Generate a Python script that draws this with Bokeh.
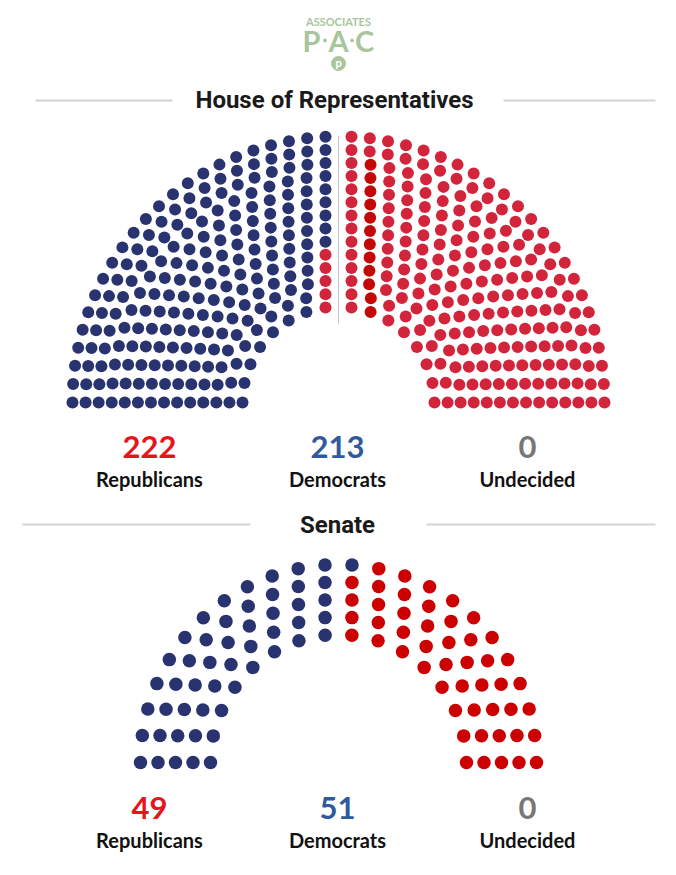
import math
import numpy as np
from bokeh.plotting import figure
from bokeh.models import Range1d, ColumnDataSource
from bokeh.core.properties import value
from bokeh.embed import file_html
from bokeh.resources import INLINE

# ---------------- data ----------------
party_labels = ["Republicans", "Democrats", "Undecided"]
house_seats = [222, 213, 0]          # Republicans, Democrats, Undecided
senate_seats = [49, 51, 0]
house_rows = 14
senate_rows = 5
house_rep_highlight = 12             # darker red seats (second column right of centre)

# ---------------- style ----------------
BLUE = "#29336f"
RED_H = "#d2253b"
RED_DARK = "#c40808"
RED_S = "#cc0000"
NUM_COLORS = ["#e8141c", "#2f5a9b", "#777777"]
LOGO = "#a8c69d"
FONT = "Lato"

W, H = 676, 875
p = figure(width=W, height=H, x_range=Range1d(0, W), y_range=Range1d(H, 0),
           output_backend="svg", toolbar_location=None, min_border=0)
p.axis.visible = False
p.grid.visible = False
p.outline_line_color = None
p.background_fill_color = "white"
p.border_fill_color = "white"


def largest_remainder(total, weights):
    raw = total * np.asarray(weights) / np.sum(weights)
    fl = np.floor(raw).astype(int)
    rem = raw - fl
    for idx in np.argsort(-rem)[: total - fl.sum()]:
        fl[idx] += 1
    return fl


# ---------------- House layout (two quarter fans with a centre gap) ----------------
hcx, hcy, r_in, r_out, gap = 338.0, 402.0, 96.0, 266.0, 13.0
rep_h, dem_h, und_h = house_seats
total_h = rep_h + dem_h + und_h
radii = np.linspace(r_in, r_out, house_rows)
arc_len = radii * (math.pi / 2 - np.arcsin(gap / radii))
left_total = math.ceil(total_h / 2)
right_total = total_h - left_total

hx, hy, hc = [], [], []
for side, n_side in ((-1, left_total), (1, right_total)):
    counts = largest_remainder(n_side - house_rows, arc_len) + 1
    seats = []
    for i, (r, m) in enumerate(zip(radii, counts)):
        t1 = math.pi / 2 - math.asin(gap / r)
        for j in range(m):
            phi = j * t1 / (m - 1)
            seats.append((m - 1 - j, i, hcx + side * r * math.cos(phi), hcy - r * math.sin(phi)))
    seats.sort()
    if side == -1:
        n_red = n_side - dem_h
        for n, (k, i, x, y) in enumerate(seats):
            hx.append(x); hy.append(y)
            hc.append(RED_H if n < n_red else BLUE)
    else:
        for (k, i, x, y) in seats:
            hx.append(x); hy.append(y)
            hc.append(RED_DARK if (k == 1 and i < house_rep_highlight) else RED_H)

p.scatter(x="x", y="y", color="c", size=12, marker="circle", line_color=None,
          source=ColumnDataSource(dict(x=hx, y=hy, c=hc)))
p.segment(x0=[hcx], y0=[135], x1=[hcx], y1=[323], line_color="#c4c4c4", line_width=1)

# ---------------- Senate layout (semicircle) ----------------
scx, scy = 338.0, 762.0
s_radii = np.linspace(128.0, 198.0, senate_rows)
rep_s, dem_s, und_s = senate_seats
total_s = rep_s + dem_s + und_s
s_counts = largest_remainder(total_s, s_radii)
s_seats = []
for r, n in zip(s_radii, s_counts):
    for j in range(n):
        a = math.pi - j * math.pi / (n - 1)
        s_seats.append((-a, -r, scx + r * math.cos(a), scy - r * math.sin(a)))
s_seats.sort()
sx = [s[2] for s in s_seats]
sy = [s[3] for s in s_seats]
sc = [BLUE if n < dem_s else RED_S for n in range(len(s_seats))]
p.scatter(x="x", y="y", color="c", size=13.5, marker="circle", line_color=None,
          source=ColumnDataSource(dict(x=sx, y=sy, c=sc)))

# ---------------- titles & separator lines ----------------
p.segment(x0=[35, 503, 22, 426], y0=[100, 100, 524, 524],
          x1=[172, 655, 250, 655], y1=[100, 100, 524, 524],
          line_color="#d3d3d3", line_width=2)
p.text(x=[334, 337], y=[99, 524], text=["House of Representatives", "Senate"],
       text_font=value("Roboto"), text_font_size="24px", text_font_style="bold",
       text_color="#1a1a1a", text_align="center", text_baseline="middle")

# ---------------- counts ----------------
label_x = [149, 337, 527]
for seats, ny, ly in ((house_seats, 446, 478), (senate_seats, 807, 839)):
    p.text(x=label_x, y=[ny] * 3, text=[str(v) for v in seats],
           text_font=value(FONT), text_font_size="31px", text_font_style="bold",
           text_color=NUM_COLORS, text_align="center", text_baseline="middle")
    p.text(x=label_x, y=[ly] * 3, text=party_labels,
           text_font=value(FONT), text_font_size="20px", text_font_style="bold",
           text_color="#111111", text_align="center", text_baseline="middle")

# ---------------- logo ----------------
p.text(x=[338], y=[21], text=["ASSOCIATES"], text_font=value(FONT), text_font_size="11px",
       text_font_style="bold", text_color=LOGO, text_align="center", text_baseline="middle")
p.text(x=[311, 338, 364], y=[40, 40, 40], text=["P", "A", "C"], text_font=value(FONT),
       text_font_size="29px", text_font_style="bold", text_color=LOGO,
       text_align="center", text_baseline="middle")
p.scatter(x=[324.5, 351.5], y=[40, 40], size=3, color=LOGO, marker="circle")
p.scatter(x=[338], y=[63], size=14, color=LOGO, marker="circle")
p.text(x=[338], y=[62], text=["p"], text_font=value(FONT), text_font_size="11px",
       text_font_style="bold", text_color="white", text_align="center", text_baseline="middle")

open("out.html", "w").write(file_html(p, INLINE))
